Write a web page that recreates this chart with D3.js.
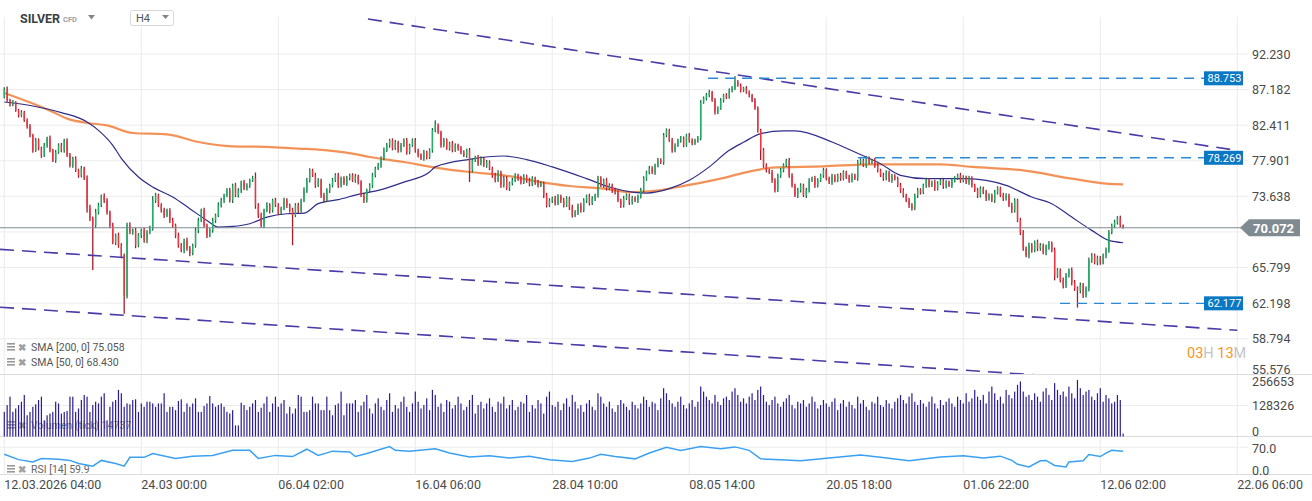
<!DOCTYPE html>
<html><head><meta charset="utf-8">
<script src="https://cdn.jsdelivr.net/npm/d3@7"></script>
<style>html,body{margin:0;padding:0;background:#fff;}svg{display:block;font-family:Roboto,"Noto Sans",sans-serif;}</style>
</head><body><svg id="c" width="1312" height="501"></svg>
<script>
// ---------- DATA ----------
const firstOpen = 86.12;
const closes = [
87.26,85.72,85.18,85.45,84.37,83.71,84.11,83.05,82.26,81.10,
79.20,80.46,79.45,78.57,79.83,80.72,79.20,77.95,78.95,79.83,
79.20,80.46,78.57,77.34,78.20,76.73,76.13,76.97,75.77,72.37,
71.12,70.33,71.80,72.60,73.64,73.17,71.80,70.33,68.47,69.23,
68.14,67.07,62.96,70.33,69.56,69.78,68.14,69.23,69.78,68.68,
69.56,70.00,73.17,73.75,72.60,72.02,71.46,72.02,70.89,70.33,
69.23,68.14,67.61,68.68,67.82,67.29,68.14,69.78,70.89,72.02,
70.33,69.23,69.78,70.89,71.46,72.60,73.17,73.75,74.34,73.17,
74.93,73.75,74.34,75.29,74.57,74.93,75.53,75.77,72.60,71.46,
70.33,72.02,72.60,72.02,73.17,72.60,71.80,72.25,73.17,72.60,
72.02,71.46,72.60,72.02,73.17,74.34,75.53,76.73,76.13,74.93,
75.53,73.75,73.17,74.34,74.93,75.53,76.13,74.93,75.77,75.17,
75.77,76.13,75.53,76.01,75.29,73.75,73.17,74.34,74.93,76.13,
76.97,77.34,78.20,79.20,79.83,80.46,79.45,80.21,79.20,79.83,
80.46,78.95,79.83,80.46,79.20,78.57,78.20,78.95,78.32,79.20,
81.74,82.39,81.49,79.83,80.46,79.45,80.08,79.20,79.83,79.45,
78.95,78.57,79.20,76.73,77.95,78.32,77.58,78.20,77.34,77.71,
76.97,76.13,75.53,76.49,74.93,75.77,74.57,75.17,75.53,76.13,
75.77,75.29,76.01,75.53,75.05,75.77,75.29,74.93,75.17,73.75,
72.60,73.17,73.40,72.83,73.64,73.17,72.60,73.40,72.37,71.46,
71.80,72.60,72.02,73.17,73.64,72.83,73.40,73.75,75.77,74.93,
75.53,74.57,74.93,74.34,74.10,73.17,72.60,73.40,73.75,72.94,
73.40,73.17,73.64,74.34,75.77,76.49,76.97,76.49,77.34,77.95,
77.71,81.10,81.74,80.46,79.20,79.83,80.46,80.71,79.83,81.10,
80.46,80.08,80.46,80.71,85.45,85.99,86.40,86.81,85.72,84.11,
84.64,85.72,86.40,86.13,87.09,87.36,88.20,87.78,87.09,87.36,
86.81,86.40,85.72,84.64,81.74,79.20,77.34,76.73,76.49,75.53,
74.34,76.13,76.73,77.34,77.95,76.13,74.93,73.75,74.34,74.93,
73.75,74.34,75.53,75.77,74.93,75.53,76.13,76.73,75.77,75.29,
76.01,75.53,76.13,75.77,76.49,75.89,75.53,76.13,75.77,77.71,
77.95,77.34,78.20,77.71,77.95,77.34,76.73,76.13,75.77,76.49,
75.53,76.01,75.77,74.93,74.34,73.75,73.17,72.60,72.25,73.75,
74.34,74.10,74.93,75.53,74.93,75.29,74.57,75.17,75.53,74.81,
75.29,74.93,75.53,75.77,76.13,75.53,75.89,75.29,75.77,74.93,
74.34,73.75,74.57,74.10,73.40,73.75,73.17,74.10,74.57,73.75,
73.40,73.75,72.60,72.02,73.17,70.89,69.56,67.82,67.07,68.14,
67.61,68.47,67.82,68.14,67.39,67.93,68.36,67.61,64.98,65.50,
64.47,63.96,64.98,65.50,64.27,63.66,63.46,63.96,62.96,63.66,
66.54,67.07,66.33,66.75,66.33,67.07,67.61,69.56,70.33,70.67,
71.12,70.33,70.07];
const wickHi = [
.25,.35,.2,.3,.15,.2,.3,.2,.25,.3, .2,.3,.25,.2,.3,.2,.35,.2,.3,.25,
.3,.2,.25,.3,.2,.25,.2,.3,.2,.35, .3,.2,.4,.3,.2,.35,.25,.2,.3,.2,
.3,.25,.2,.3,.35,.2,.3,.25,.2,.3, .25,.3,.5,.3,.2,.25,.3,.2,.25,.3,
.2,.3,.25,.2,.3,.25,.2,.35,.3,.2, .3,.2,.25,.3,.2,.35,.3,.2,.25,.3,
.2,.3,.25,.2,.3,.25,.2,.3,.7,.25, .3,.2,.35,.25,.2,.3,.25,.2,.3,.25,
.2,.3,.25,.3,.2,.35,.3,.25,.2,.3, .25,.2,.3,.25,.2,.3,.25,.3,.2,.25,
.3,.2,.25,.3,.2,.25,.3,.2,.25,.3, .2,.3,.25,.35,.3,.2,.25,.3,.2,.3,
.25,.3,.2,.25,.3,.2,.25,.3,.2,.25, .3,.65,.25,.2,.3,.25,.2,.3,.25,.2,
.3,.25,.2,.3,.25,.2,.3,.25,.2,.3, .25,.2,.3,.25,.2,.3,.25,.2,.3,.25,
.2,.3,.25,.2,.3,.25,.2,.3,.25,.2, .3,.25,.2,.3,.25,.2,.3,.25,.2,.3,
.25,.2,.3,.25,.2,.3,.25,.2,.3,.25, .2,.3,.25,.2,.3,.25,.2,.3,.25,.2,
.3,.25,.2,.3,.25,.2,.3,.25,.2,.3, .25,.3,.25,.2,.3,.25,.2,.3,.25,.2,
.3,.25,.2,.3,.3,.25,.3,.35,.2,.3, .25,.3,.2,.3,.25,.3,.85,.3,.25,.2,
.3,.25,.2,.3,.25,.2,.3,.25,.2,.3, .25,.2,.3,.25,.2,.3,.25,.2,.3,.25,
.2,.3,.25,.2,.3,.25,.2,.3,.25,.2, .3,.25,.2,.3,.25,.2,.3,.25,.2,.3,
.25,.2,.3,.25,.2,.3,.25,.2,.3,.25, .2,.3,.25,.2,.3,.25,.2,.3,.25,.2,
.3,.25,.2,.3,.25,.2,.3,.25,.2,.3, .25,.2,.3,.25,.2,.3,.25,.2,.3,.25,
.2,.3,.25,.2,.3,.25,.2,.3,.25,.2, .3,.25,.2,.3,.25,.2,.3,.25,.2,.3,
.25,.2,.3,.25,.2,.3,.25,.2,.3,.25, .2,.3,.25,.2,.3,.25,.2,.3,.25,.2,
.3,.25,.2,.3,.25,.2,.3,.25,.2,.3, .25,.3,.1];
const wickLo = [
.15,.2,.3,.25,.2,.3,.25,.2,.3,.25, .3,.2,.25,.3,.2,.3,.25,.2,.3,.2,
.25,.3,.2,.25,.3,.2,.3,.25,.2,.6, .3,4.8,.3,.25,.2,.3,.25,.3,.2,.3,
.25,.3,1.8,.3,.2,.25,.3,.2,.3,.25, .3,.2,.25,.3,.2,.25,.3,.2,.3,.25,
.3,.25,.2,.3,.25,.3,.2,.25,.3,.2, .25,.3,.2,.25,.3,.2,.25,.3,.2,.25,
.3,.2,.25,.3,.2,.25,.3,.2,.4,.3, .25,.3,.2,.35,.25,.2,.3,.25,.2,.3,
.25,3.3,.2,.3,.25,.2,.3,.25,.2,.3, .2,.3,.25,.2,.3,.25,.2,.3,.25,.2,
.3,.25,.2,.3,.25,.2,.3,.25,.2,.3, .25,.2,.3,.25,.2,.3,.25,.2,.3,.25,
.2,.3,.25,.2,.3,.25,.2,.3,.25,.2, .3,.25,.2,.3,.25,.2,.3,.25,.2,.3,
.25,.2,.3,1.4,.25,.2,.3,.25,.2,.3, .2,.3,.25,.2,.3,.25,.2,.3,.25,.2,
.3,.25,.2,.3,.25,.2,.3,.25,.2,.3, .25,.2,.3,.25,.2,.3,.25,.2,.3,.25,
.2,.3,.25,.2,.3,.25,.2,.3,.25,.2, .3,.25,.2,.3,.25,.2,.3,.25,.2,.3,
.25,.2,.3,.25,.2,.3,.25,.2,.3,.25, .2,.3,.25,.2,.3,.25,.2,.3,.25,.2,
.3,.25,.2,.3,.25,.2,.3,.25,.2,.3, .25,.2,.3,.25,.2,.3,.25,.2,.3,.25,
.2,.3,.25,.2,.3,1.2,.3,.25,.2,.3, .25,.2,.3,.25,.2,.3,.25,.2,.3,.25,
.2,.3,.25,.2,.3,.25,.2,.3,.25,.2, .3,.25,.2,.3,.25,.2,.3,.25,.2,.3,
.25,.2,.3,.25,.2,.3,.25,.2,.3,.25, .2,.3,.25,.2,.3,.25,.2,.3,.25,.2,
.3,.25,.2,.3,.25,.2,.3,.25,.2,.3, .25,.2,.3,.25,.2,.3,.25,.2,.3,.25,
.2,.3,.25,.2,.3,.25,.2,.3,.25,.2, .3,.25,.2,.3,.25,.2,.3,.25,.2,.3,
.25,.2,.3,.25,.2,.3,.25,.2,.5,.25, .2,.3,.25,.2,.3,.25,1.7,.3,.25,.2,
.3,.25,.2,.3,.25,.2,.3,.25,.2,.3, .25,.2,.1];
// volumes in thousands of ticks
const volumes = [
102,130,165,102,116,130,144,172,88,102,123,133,151,165,67,88,95,102,144,137,
95,102,106,165,165,102,116,151,172,165,102,130,144,137,165,179,67,123,144,151,
193,179,123,137,133,151,154,102,137,123,144,144,137,123,137,137,179,102,123,123,
109,147,154,102,137,123,137,158,102,102,126,137,168,137,123,130,137,123,102,95,
109,46,46,140,130,109,123,137,151,102,119,137,165,102,137,165,123,137,151,95,
123,95,116,172,165,102,102,109,165,137,137,109,109,165,109,88,130,137,186,88,
137,137,137,151,102,128,144,172,116,95,137,158,123,109,151,179,102,130,116,144,
165,123,102,137,186,144,116,130,158,109,193,172,123,137,102,151,144,116,130,165,
137,109,123,151,172,95,130,144,116,137,158,123,102,144,137,165,116,130,151,109,
123,144,137,172,102,130,116,151,137,95,165,186,130,123,144,109,137,158,123,172,
144,116,130,102,137,151,123,109,179,165,137,123,144,116,102,130,151,137,123,109,
144,130,116,137,165,151,123,144,137,109,158,200,179,151,137,123,144,165,130,116,
137,151,123,144,207,186,165,151,137,172,144,130,158,165,151,186,200,172,144,158,
137,165,179,151,193,207,172,144,130,151,165,137,123,144,158,172,130,116,144,137,
151,123,137,165,144,116,130,151,137,123,144,158,109,137,151,123,144,130,116,165,
137,151,123,109,144,137,165,130,123,151,137,116,144,158,172,151,137,165,179,144,
130,151,137,123,144,165,137,116,151,130,144,158,137,123,165,151,137,179,144,158,
193,165,151,172,137,186,207,179,151,165,137,193,172,158,186,214,228,186,165,172,
151,179,165,144,186,200,172,151,221,193,172,186,165,207,179,158,234,200,172,186,
193,165,151,179,200,144,172,158,137,144,172,151,12];
const sma200Idx = [0,10,17,22,29,36,45,57,68,80,92,103,110,122,128,140,151,163,175,186,198,210,219,227,239,251,259,265,269,287,304,328,339,357,374,386,392];
const sma200Val = [86.72,85.28,84.15,83.27,82.70,82.39,81.40,81.23,80.25,79.70,79.62,79.41,79.29,78.79,78.37,77.75,77.07,76.53,76.13,75.44,74.85,74.54,74.14,74.26,74.93,75.73,76.43,76.85,77.07,77.22,77.47,77.47,77.15,76.73,75.73,75.14,75.058];
const sma50Idx = [0,10,20,29,33,38,41,47,52,59,65,71,75,80,86,92,99,105,110,117,124,131,140,149,151,163,175,183,192,204,212,220,225,233,240,247,254,259,265,273,277,290,298,307,314,323,337,351,360,367,374,381,387,392];
const sma50Val = [85.49,84.95,84.07,82.83,81.74,79.83,78.20,75.92,74.73,73.56,72.22,70.89,70.15,70.22,70.52,71.26,71.64,71.71,72.79,73.25,73.87,74.34,75.32,76.53,77.15,78.08,78.49,78.05,77.15,75.73,74.73,74.14,74.02,74.54,75.53,77.15,79.20,80.21,81.32,81.66,81.66,80.25,78.98,77.54,76.13,75.73,75.73,74.93,73.56,72.79,71.26,69.78,68.68,68.43];
const rsiIdx = [0,5,10,13,19,23,26,31,34,39,42,44,49,52,60,66,73,80,86,89,95,101,106,110,115,121,123,127,135,137,142,151,156,163,170,177,184,191,199,205,209,214,221,226,232,237,244,251,256,261,265,272,279,289,300,307,317,328,336,343,349,353,355,359,363,365,368,372,373,378,380,384,386,388,392];
const rsiVal = [52,38,32,41,39,36,28,21,36,28,21,44,44,54,41,47,49,62,62,41,49,46,65,49,60,58,46,54,72,62,60,66,55,45,48,42,47,38,33,42,52,46,40,55,70,62,72,66,71,62,40,38,35,42,50,44,35,45,48,42,47,36,26,19,35,36,23,19,32,35,51,46,55,62,59.9];
const priceTicks = [92.230,87.182,82.411,77.901,73.638,69.608,65.799,62.198,58.794,55.576];
const volTicks = [256653,128326,0];
const rsiTicks = [70,0];
const dateLabels = ["12.03.2026 04:00","24.03 00:00","06.04 02:00","16.04 06:00","28.04 10:00","08.05 14:00","20.05 18:00","01.06 22:00","12.06 02:00","22.06 06:00"];
const dateIdx = [0,48,96,144,192,240,288,336,384,432];
const levelValues = [88.753,78.269,62.177];
const levelFromIdx = [246.6,299.1,369.9];
const trendStartIdx = [127.4,-1.5,-1.5];
const trendStartVal = [97.47,67.72,61.80];
const trendEndIdx = [432,432,432];
const trendEndVal = [79.18,59.58,54.38];
const lastPrice = 70.072;
const legend = {sma200:"SMA [200, 0] 75.058", sma50:"SMA [50, 0] 68.430", vol:"Volumen (tick) 14737", rsi:"RSI [14] 59.9"};

// ---------- SCALES ----------
const svg = d3.select("#c");
const N = closes.length;
const x = d3.scaleLinear().domain([0,432]).range([4.3,1237.3]);
const y = d3.scaleLog().domain([55.576,92.230]).range([374.3,54.0]);
const yV = d3.scaleLinear().domain([0,256.653]).range([436.5,374.5]);
const yR = d3.scaleLinear().domain([0,100]).range([474.3,435.7]);
const opens = closes.map((c,i)=> i===0 ? firstOpen : closes[i-1]);
const ly = y(lastPrice);

const grid = "#ececec";
svg.append("g").selectAll("line").data(dateIdx).join("line")
  .attr("x1",d=>x(d)).attr("x2",d=>x(d)).attr("y1",17).attr("y2",474)
  .attr("stroke",grid).attr("stroke-width",1);
svg.append("g").selectAll("line").data(priceTicks.slice(0,-1)).join("line")
  .attr("x1",0).attr("x2",1248).attr("y1",d=>y(d)).attr("y2",d=>y(d))
  .attr("stroke",grid);
svg.append("line").attr("x1",0).attr("x2",1248).attr("y1",yV(128.326)).attr("y2",yV(128.326)).attr("stroke",grid);
svg.append("line").attr("x1",0).attr("x2",1248).attr("y1",yR(70)).attr("y2",yR(70)).attr("stroke",grid);
[374.5,436.5,474.5].forEach(v=>svg.append("line").attr("x1",0).attr("x2",1312).attr("y1",v).attr("y2",v).attr("stroke","#dcdcdc"));

svg.append("clipPath").attr("id","mainclip").append("rect").attr("x",0).attr("y",0).attr("width",1240).attr("height",374);
const main = svg.append("g").attr("clip-path","url(#mainclip)");

const smaLine = d3.line().x(d=>x(d[0])).y(d=>y(d[1])).curve(d3.curveMonotoneX);
main.append("path").datum(sma200Idx.map((d,i)=>[d,sma200Val[i]])).attr("d",smaLine)
  .attr("fill","none").attr("stroke","#f39257").attr("stroke-width",2.2);
main.append("path").datum(sma50Idx.map((d,i)=>[d,sma50Val[i]])).attr("d",smaLine)
  .attr("fill","none").attr("stroke","#2e2d8c").attr("stroke-width",1.2);

// candles
const cw = 1.3;
const cg = main.append("g");
cg.selectAll("rect.w").data(d3.range(N)).join("rect").attr("class","w")
  .attr("x",i=>x(i)-cw/2).attr("width",cw)
  .attr("y",i=>y(Math.max(opens[i],closes[i])+wickHi[i]))
  .attr("height",i=>Math.max(1,y(Math.min(opens[i],closes[i])-wickLo[i])-y(Math.max(opens[i],closes[i])+wickHi[i])))
  .attr("fill",i=>closes[i]>=opens[i]?"#17703f":"#a51d2b");
cg.selectAll("rect.b").data(d3.range(N)).join("rect").attr("class","b")
  .attr("x",i=>x(i)-cw/2).attr("width",cw)
  .attr("y",i=>y(Math.max(opens[i],closes[i])))
  .attr("height",i=>Math.max(1,y(Math.min(opens[i],closes[i]))-y(Math.max(opens[i],closes[i]))))
  .attr("fill",i=>closes[i]>=opens[i]?"#25b06a":"#f7323f");

main.append("g").selectAll("line").data(trendStartIdx).join("line")
  .attr("x1",(d,i)=>x(d)).attr("y1",(d,i)=>y(trendStartVal[i]))
  .attr("x2",(d,i)=>x(trendEndIdx[i])).attr("y2",(d,i)=>y(trendEndVal[i]))
  .attr("stroke","#4a3ba6").attr("stroke-width",1.6).attr("stroke-dasharray","14,8");

main.append("g").selectAll("line").data(levelValues).join("line")
  .attr("x1",(d,i)=>x(levelFromIdx[i])).attr("x2",1204)
  .attr("y1",d=>y(d)).attr("y2",d=>y(d))
  .attr("stroke","#2b8ad6").attr("stroke-width",1.4).attr("stroke-dasharray","10,7");

svg.append("line").attr("x1",0).attr("x2",1243).attr("y1",ly).attr("y2",ly)
  .attr("stroke","#7f8b90").attr("stroke-width",1.2);

const lb = svg.append("g").selectAll("g").data(levelValues).join("g");
lb.append("rect").attr("x",1204).attr("width",39).attr("y",d=>y(d)-7).attr("height",14).attr("fill","#0a78c2");
lb.append("text").attr("x",1207.5).attr("y",d=>y(d)).attr("dy","0.36em")
  .attr("fill","#fff").attr("font-size",11).text(d=>d.toFixed(3));

// price labels (the one hidden under the last-price badge is not shown)
svg.append("g").selectAll("text").data(priceTicks.filter(d=>Math.abs(y(d)-ly)>9)).join("text")
  .attr("x",1252).attr("y",d=>Math.min(y(d),369)).attr("dy","0.36em")
  .attr("font-size",12.5).attr("fill","#4a4a4a").text(d=>d.toFixed(3));

svg.append("path").attr("d",`M1240,${ly} L1249,${ly-8.5} L1300,${ly-8.5} L1300,${ly+8.5} L1249,${ly+8.5} Z`).attr("fill","#7f8b90");
svg.append("text").attr("x",1253).attr("y",ly).attr("dy","0.37em").attr("font-size",13).attr("font-weight","bold")
  .attr("fill","#fff").text(lastPrice.toFixed(3));

const cd = svg.append("text").attr("x",1187).attr("y",358).attr("font-size",14.5);
cd.append("tspan").attr("fill","#f7941d").text("03");
cd.append("tspan").attr("fill","#c4c4c4").text("H ");
cd.append("tspan").attr("fill","#f7941d").text("13");
cd.append("tspan").attr("fill","#c4c4c4").text("M");

function legendRow(yc, txt, col){
  const g = svg.append("g");
  g.append("rect").attr("x",7).attr("y",yc-4).attr("width",8).attr("height",1.6).attr("fill","#9a9a9a");
  g.append("rect").attr("x",7).attr("y",yc-1).attr("width",8).attr("height",1.6).attr("fill","#9a9a9a");
  g.append("rect").attr("x",7).attr("y",yc+2).attr("width",8).attr("height",1.6).attr("fill","#9a9a9a");
  g.append("text").attr("x",17.5).attr("y",yc).attr("dy","0.36em").attr("font-size",10).attr("font-weight","bold").attr("fill","#a0a0a0").text("\u2716");
  g.append("text").attr("x",31).attr("y",yc).attr("dy","0.36em").attr("font-size",10.5).attr("fill",col).text(txt);
}
legendRow(347, legend.sma200, "#555");
legendRow(362, legend.sma50, "#555");
legendRow(425, legend.vol, "#888");
legendRow(469, legend.rsi, "#666");

svg.append("g").selectAll("rect").data(d3.range(N)).join("rect")
  .attr("x",i=>x(i)-0.6).attr("width",1.2)
  .attr("y",i=>yV(volumes[i])).attr("height",i=>yV(0)-yV(volumes[i]))
  .attr("fill","#2b1c93");
svg.append("g").selectAll("text").data(volTicks).join("text")
  .attr("x",1252).attr("y",d=>Math.min(Math.max(yV(d/1000),381.5),431)).attr("dy","0.36em")
  .attr("font-size",12.5).attr("fill","#4a4a4a").text(d=>String(d));

svg.append("path").datum(rsiIdx.map((d,i)=>[d,rsiVal[i]]))
  .attr("d",d3.line().x(d=>x(d[0])).y(d=>yR(d[1])))
  .attr("fill","none").attr("stroke","#3aa1f2").attr("stroke-width",1.5);
svg.append("g").selectAll("text").data(rsiTicks).join("text")
  .attr("x",1252).attr("y",d=>Math.min(yR(d)+1.5,470)).attr("dy","0.36em")
  .attr("font-size",12.5).attr("fill","#4a4a4a").text(d=>d.toFixed(1));

svg.append("g").selectAll("text").data(dateLabels).join("text")
  .attr("x",(d,i)=>x(dateIdx[i])).attr("y",484).attr("dy","0.36em")
  .attr("font-size",12.5).attr("fill","#4a4a4a").text(d=>d);

svg.append("text").attr("x",20).attr("y",22.5).attr("font-size",12.5).attr("font-weight","bold").attr("fill","#3a3f44").text("SILVER");
svg.append("text").attr("x",63).attr("y",22).attr("font-size",7.5).attr("font-weight","bold").attr("fill","#9aa0a4").text("CFD");
svg.append("path").attr("d","M88,15 L95,15 L91.5,19.5 Z").attr("fill","#80868a");
svg.append("rect").attr("x",130.5).attr("y",10.5).attr("width",43).attr("height",15).attr("rx",2).attr("fill","#fff").attr("stroke","#d8d8d8");
svg.append("text").attr("x",136).attr("y",22).attr("font-size",11).attr("fill","#555").text("H4");
svg.append("path").attr("d","M162,15 L169,15 L165.5,19 Z").attr("fill","#80868a");
</script></body></html>
